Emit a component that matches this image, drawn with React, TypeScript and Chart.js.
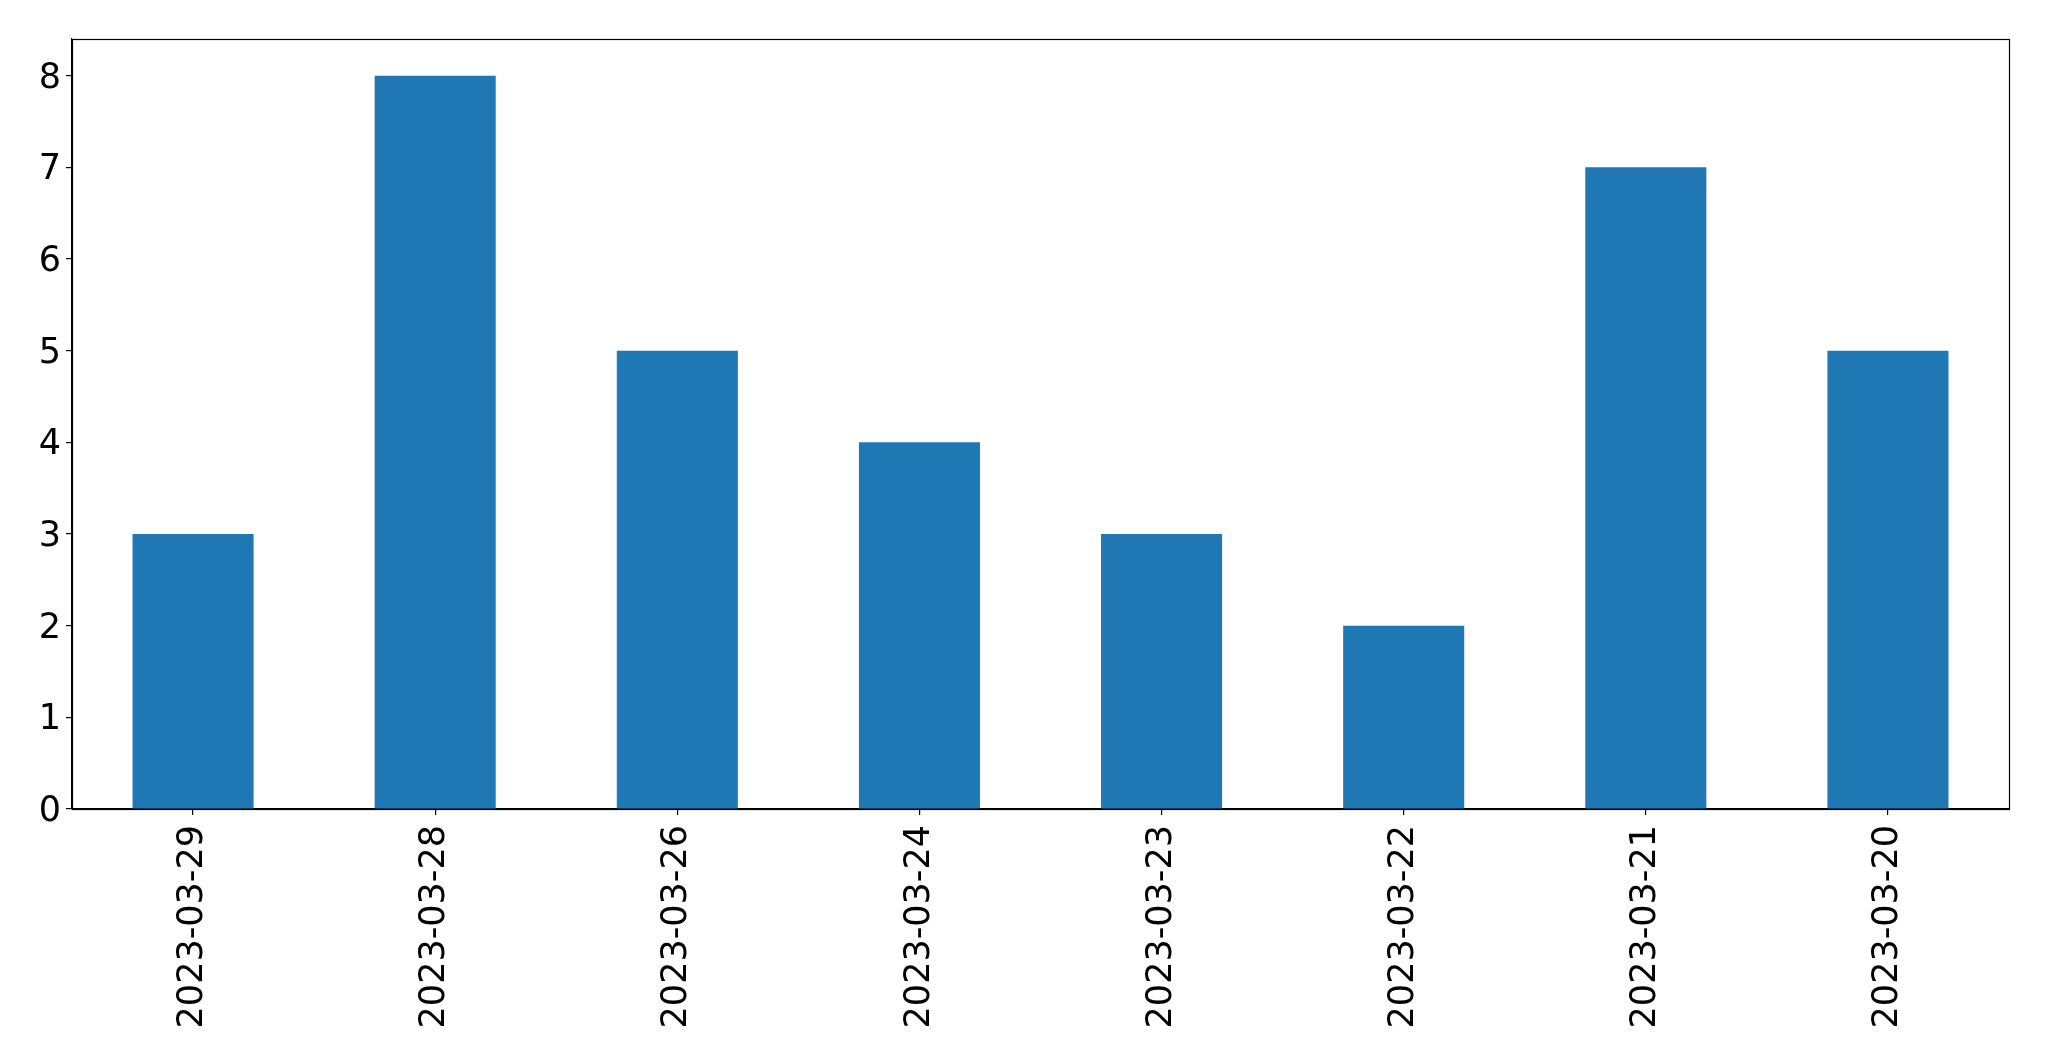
import React, { useEffect, useRef } from "react";
import { Chart, registerables } from "chart.js";

Chart.register(...registerables);

const categories = ["2023-03-29", "2023-03-28", "2023-03-26", "2023-03-24", "2023-03-23", "2023-03-22", "2023-03-21", "2023-03-20"];
const values = [3, 8, 5, 4, 3, 2, 7, 5];
const yTicks = [0, 1, 2, 3, 4, 5, 6, 7, 8];

const W = 2049;
const H = 1061;
const PLOT_LEFT = 72;
const PLOT_RIGHT = 2009;
const PLOT_TOP = 39;
const PLOT_BOTTOM = 809;
const FONT = "'DejaVu Sans', sans-serif";
const FONT_SIZE = 35;

const frame = {
  id: "frame",
  afterDraw(chart: any) {
    const { ctx, chartArea: a } = chart;
    ctx.save();
    ctx.strokeStyle = "#000";
    ctx.lineWidth = 1.2;
    ctx.strokeRect(Math.round(a.left) + 0.5, Math.round(a.top) + 0.5, Math.round(a.right - a.left), Math.round(a.bottom - a.top));
    ctx.restore();
  },
};

export default function App() {
  const ref = useRef<HTMLCanvasElement>(null);
  useEffect(() => {
    const chart = new Chart(ref.current!, {
      type: "bar",
      data: {
        labels: categories,
        datasets: [
          {
            data: values,
            backgroundColor: "#1f77b4",
            barPercentage: 0.5,
            categoryPercentage: 1,
          },
        ],
      },
      plugins: [frame],
      options: {
        animation: false,
        responsive: false,
        maintainAspectRatio: false,
        devicePixelRatio: 1,
        layout: { padding: { top: PLOT_TOP, right: W - PLOT_RIGHT, left: 0, bottom: 0 } },
        plugins: { legend: { display: false }, tooltip: { enabled: false }, title: { display: false } },
        scales: {
          x: {
            grid: { display: true, offset: false, drawOnChartArea: false, drawTicks: true, tickLength: 6, color: "#000", lineWidth: 1.2 },
            border: { display: true, color: "#000", width: 1.2 },
            ticks: {
              color: "#000",
              font: { family: FONT, size: FONT_SIZE },
              minRotation: 90,
              maxRotation: 90,
              padding: 10,
              autoSkip: false,
            },
            afterFit(axis: any) {
              axis.height = H - PLOT_BOTTOM;
            },
          },
          y: {
            min: 0,
            max: 8.4,
            grid: { display: true, drawOnChartArea: false, drawTicks: true, tickLength: 6, color: "#000", lineWidth: 1.2 },
            border: { display: true, color: "#000", width: 1.2 },
            ticks: {
              color: "#000",
              font: { family: FONT, size: FONT_SIZE },
              stepSize: 1,
              padding: 5,
              labelOffset: 3,
            },
            afterBuildTicks(axis: any) {
              axis.ticks = yTicks.map((v) => ({ value: v }));
            },
            afterFit(axis: any) {
              axis.width = PLOT_LEFT;
            },
          },
        },
      },
    });
    return () => chart.destroy();
  }, []);
  return (
    <div style={{ position: "fixed", left: 0, top: 0, width: W, height: H, background: "#fff" }}>
      <canvas ref={ref} width={W} height={H} style={{ width: W, height: H, display: "block" }} />
    </div>
  );
}
